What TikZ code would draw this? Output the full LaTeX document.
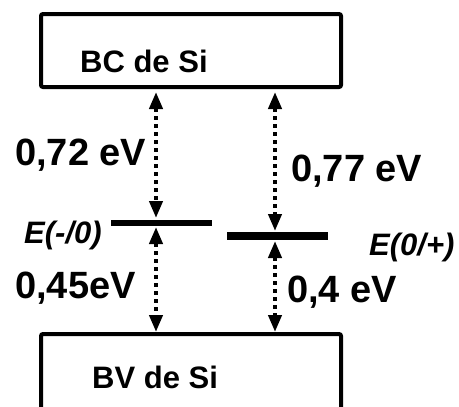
\documentclass[tikz,border=0pt]{standalone}
\usepackage{fontspec}
\setmainfont{Liberation Sans}
\usetikzlibrary{arrows.meta}
\begin{document}
\begin{tikzpicture}[x=1pt,y=-1pt,
  band/.style={draw=black,line width=4pt,rounded corners=2pt,minimum width=300pt,inner sep=0pt},
  bandtext/.style={font=\fontsize{31}{31}\selectfont\bfseries,anchor=base west,inner sep=0pt},
  gap/.style={font=\fontsize{38}{38}\selectfont\bfseries,anchor=base west,inner sep=0pt},
  lvltext/.style={font=\fontsize{31}{31}\selectfont\bfseries\itshape,anchor=base west,inner sep=0pt},
  level/.style={fill=black,inner sep=0pt,minimum width=101pt},
  darr/.style={line width=4pt,dash pattern=on 4pt off 4pt,{Triangle[length=17pt,width=13pt]}-{Triangle[length=17pt,width=13pt]}}]
\useasboundingbox (0,0) rectangle (459,407);
% bands
\node[band,minimum height=73pt] (bc) at (191,50.5) {};
\node[band,minimum height=100pt] (bv) at (191,384) {};
\node[bandtext] (bct) at (80,72) {BC de Si};
\node[bandtext] (bvt) at (92,388) {BV de Si};
% levels
\node[level,minimum height=6pt] (lm) at (161,222.5) {};
\node[level,minimum height=8pt] (lp) at (277,236) {};
\node[lvltext] (lmt) at (24,243) {E(-/0)};
\node[lvltext] (lpt) at (369,255) {E(0/+)};
% arrow end points
\coordinate (a1) at (156,92);
\coordinate (a2) at (156,218);
\coordinate (a3) at (156,227);
\coordinate (a4) at (156,332);
\coordinate (b1) at (275,92);
\coordinate (b2) at (275,231);
\coordinate (b3) at (275,241);
\coordinate (b4) at (275,332);
\draw[darr] (a1) -- (a2);
\draw[darr] (a3) -- (a4);
\draw[darr] (b1) -- (b2);
\draw[darr] (b3) -- (b4);
% gap labels
\node[gap] (g1) at (15,165) {0,72 eV};
\node[gap] (g2) at (291,181) {0,77 eV};
\node[gap] (g3) at (15,298) {0,45eV};
\node[gap] (g4) at (287,302) {0,4 eV};
\end{tikzpicture}
\end{document}
